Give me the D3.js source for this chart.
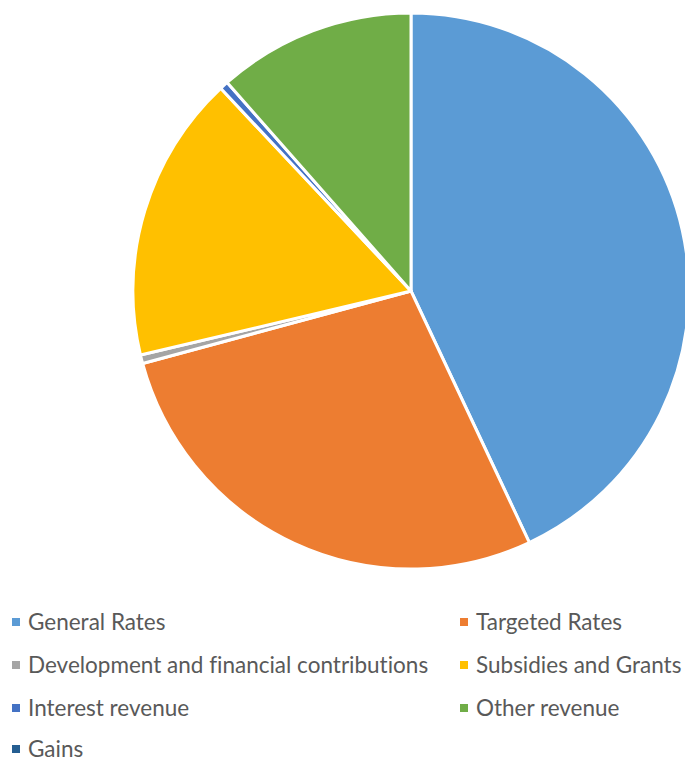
<!DOCTYPE html>
<html>
<head>
<meta charset="utf-8">
<script src="https://cdn.jsdelivr.net/npm/d3@7"></script>
<style>
  html, body { margin: 0; padding: 0; background: #fff; }
  svg { display: block; }
  text { font-variant-ligatures: none; font-feature-settings: "liga" 0, "clig" 0; }
</style>
</head>
<body>
<svg id="chart" width="685" height="762"></svg>
<script>
// Revenue sources, share of total (%)
const categories = [
  "General Rates",
  "Targeted Rates",
  "Development and financial contributions",
  "Subsidies and Grants",
  "Interest revenue",
  "Other revenue",
  "Gains"
];
const values = [43.0, 27.8, 0.5, 16.7, 0.5, 11.5, 0.0];
const colors = ["#5B9BD5", "#ED7D31", "#A5A5A5", "#FFC000", "#4472C4", "#70AD47", "#255E91"];

const svg = d3.select("#chart");
const cx = 411, cy = 291, radius = 278;

const data = categories.map((c, i) => ({ name: c, value: values[i], color: colors[i] }));

const pie = d3.pie().value(d => d.value).sort(null);
const arc = d3.arc().innerRadius(0).outerRadius(radius);

svg.append("g")
  .attr("transform", `translate(${cx},${cy})`)
  .selectAll("path")
  .data(pie(data).filter(d => d.data.value > 0))
  .join("path")
  .attr("d", arc)
  .attr("fill", d => d.data.color)
  .attr("stroke", "#fff")
  .attr("stroke-width", 3)
  .attr("stroke-linejoin", "round");

// Legend: two columns, four rows
const colX = [12, 460];
const rowY = [622, 665, 708, 749];
const legend = svg.append("g")
  .selectAll("g")
  .data(data)
  .join("g")
  .attr("transform", (d, i) => `translate(${colX[i % 2]},${rowY[Math.floor(i / 2)]})`);

legend.append("rect")
  .attr("x", 0).attr("y", -4)
  .attr("width", 8).attr("height", 8)
  .attr("fill", d => d.color);

legend.append("text")
  .attr("x", 16).attr("y", 0)
  .attr("dy", "0.34em")
  .attr("font-family", "Lato, 'Open Sans', sans-serif")
  .attr("font-size", 22.5)
  .attr("fill", "#595959")
  .text(d => d.name);
</script>
</body>
</html>
